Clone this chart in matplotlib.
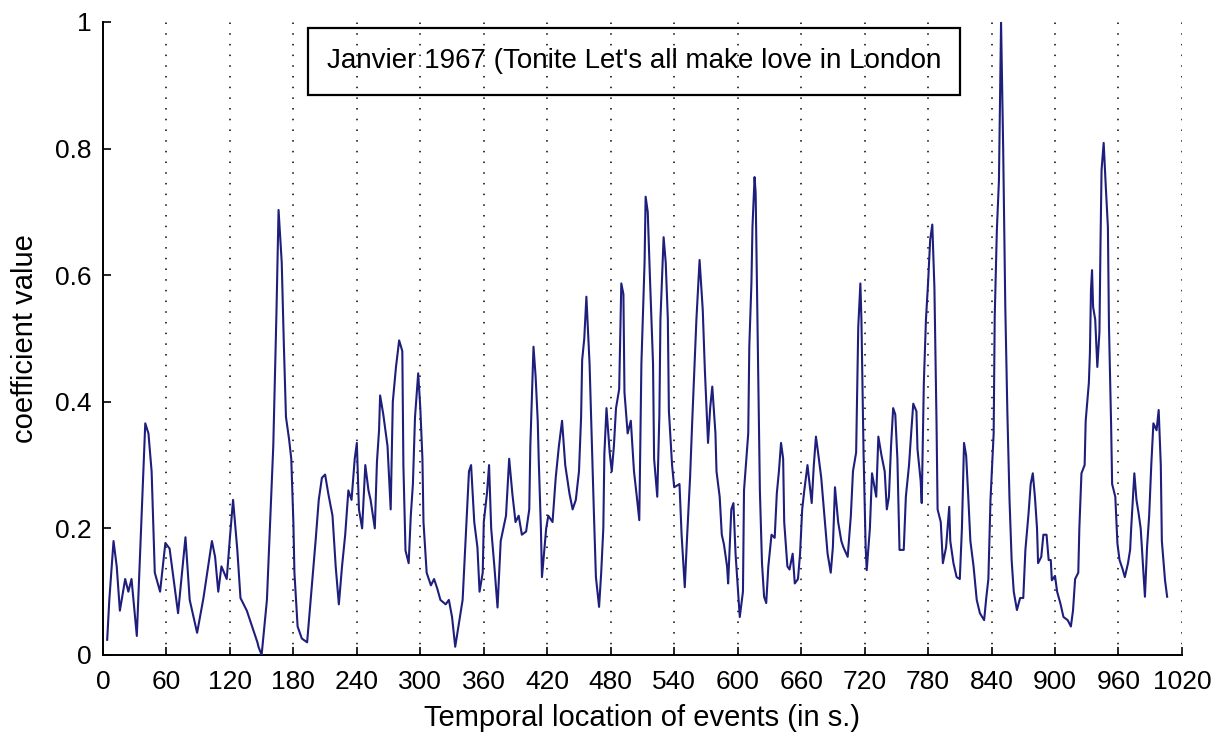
import matplotlib
matplotlib.use("Agg")
import matplotlib.pyplot as plt
from matplotlib.patches import Rectangle

plt.rcParams['font.family'] = ['Liberation Sans', 'DejaVu Sans']

# time (s) and coefficient values
time_s = [4, 6, 10, 13, 16, 21, 24, 27, 32, 35, 40, 43, 46, 49, 54, 59, 63, 71, 78, 82,
          89, 95, 103, 106, 109, 112, 117, 120, 123, 127, 130, 136, 142, 146,
          147, 150, 155, 158, 161, 164, 166, 169, 171, 173, 176, 178, 180, 181, 184, 188,
          193, 196, 201, 204, 207, 210, 213, 217, 220, 223, 226, 229, 232, 235, 238, 240,
          242, 245, 248, 251, 253, 257, 259, 261, 262, 265, 269, 272, 274, 277, 280, 283,
          284, 286, 289, 291, 293, 295, 298, 300, 302, 303, 306, 310, 313, 316, 319, 324,
          327, 330, 333, 336, 340, 343, 346, 348, 351, 354, 356, 359, 360, 363, 365, 367,
          370, 373, 376, 381, 384, 387, 390, 393, 396, 400, 403, 404, 407, 409, 411, 412,
          414, 415, 419, 421, 425, 428, 431, 434, 437, 441, 444, 447, 450, 452, 453, 455,
          457, 460, 462, 464, 466, 469, 471, 473, 474, 476, 479, 481, 483, 485, 488, 490,
          492, 493, 496, 499, 502, 505, 507, 509, 512, 513, 515, 517, 520, 521, 524, 526,
          527, 530, 532, 534, 535, 538, 540, 545, 547, 550, 552, 555, 557, 561, 564, 567,
          569, 572, 574, 576, 579, 580, 583, 585, 587, 590, 591, 594, 596, 598, 600, 602,
          605, 606, 610, 611, 613, 614, 616, 617, 619, 621, 623, 625, 627, 629, 632, 635,
          637, 639, 641, 643, 644, 647, 649, 652, 654, 657, 659, 661, 663, 666, 670, 672,
          674, 676, 679, 682, 685, 688, 690, 692, 695, 698, 700, 704, 707, 709, 712, 714,
          716, 717, 719, 721, 722, 725, 727, 731, 733, 736, 739, 741, 743, 745, 747, 749,
          751, 753, 757, 759, 762, 764, 766, 769, 770, 773, 774, 776, 778, 780, 782, 784,
          786, 788, 789, 792, 794, 797, 800, 801, 804, 807, 810, 812, 814, 816, 818, 820,
          823, 826, 829, 833, 835, 837, 839, 842, 843, 845, 847, 849, 851, 853, 855, 857,
          859, 861, 864, 867, 870, 872, 875, 877, 879, 881, 883, 884, 887, 889, 892, 894,
          896, 897, 900, 902, 905, 908, 912, 915, 917, 919, 922, 923, 925, 928, 929, 932,
          933, 934, 935, 936, 938, 940, 942, 943, 944, 946, 948, 950, 951, 953, 954, 957,
          959, 961, 964, 966, 969, 971, 972, 975, 977, 979, 981, 983, 985, 987, 989, 991,
          993, 996, 998, 1000, 1001, 1004, 1006]

coef = [0.024, 0.087, 0.18, 0.14, 0.07, 0.12, 0.10, 0.12, 0.03, 0.155, 0.366, 0.35, 0.29, 0.13, 0.10, 0.177, 0.168, 0.066, 0.186, 0.087,
        0.035, 0.09, 0.18, 0.155, 0.10, 0.14, 0.12, 0.185, 0.245, 0.166, 0.09, 0.07, 0.04, 0.02,
        0.013, 0.0, 0.087, 0.21, 0.33, 0.54, 0.703, 0.62, 0.49, 0.376, 0.34, 0.31, 0.21, 0.13, 0.045, 0.026,
        0.02, 0.08, 0.18, 0.245, 0.28, 0.285, 0.255, 0.22, 0.14, 0.08, 0.14, 0.19, 0.26, 0.245, 0.31, 0.335,
        0.23, 0.20, 0.30, 0.26, 0.245, 0.20, 0.305, 0.355, 0.41, 0.38, 0.33, 0.23, 0.40, 0.455, 0.497, 0.48,
        0.30, 0.165, 0.145, 0.22, 0.27, 0.376, 0.445, 0.39, 0.31, 0.21, 0.13, 0.11, 0.12, 0.105, 0.087, 0.08,
        0.087, 0.06, 0.013, 0.045, 0.087, 0.19, 0.29, 0.30, 0.21, 0.17, 0.10, 0.13, 0.21, 0.255, 0.30, 0.20,
        0.14, 0.075, 0.18, 0.22, 0.31, 0.255, 0.21, 0.22, 0.19, 0.195, 0.23, 0.33, 0.487, 0.44, 0.37, 0.305,
        0.20, 0.123, 0.20, 0.22, 0.21, 0.28, 0.33, 0.37, 0.30, 0.255, 0.23, 0.245, 0.29, 0.376, 0.466, 0.50,
        0.566, 0.46, 0.345, 0.23, 0.123, 0.076, 0.13, 0.20, 0.318, 0.39, 0.32, 0.29, 0.33, 0.39, 0.42, 0.587,
        0.57, 0.415, 0.35, 0.37, 0.29, 0.245, 0.213, 0.46, 0.62, 0.724, 0.70, 0.60, 0.46, 0.31, 0.25, 0.38,
        0.53, 0.66, 0.62, 0.53, 0.385, 0.30, 0.265, 0.27, 0.19, 0.107, 0.18, 0.28, 0.367, 0.53, 0.624, 0.545,
        0.45, 0.335, 0.39, 0.424, 0.35, 0.29, 0.25, 0.19, 0.175, 0.14, 0.113, 0.23, 0.24, 0.16, 0.11, 0.06,
        0.10, 0.26, 0.35, 0.487, 0.587, 0.676, 0.755, 0.73, 0.49, 0.26, 0.145, 0.092, 0.082, 0.14, 0.19, 0.185,
        0.255, 0.29, 0.335, 0.31, 0.21, 0.14, 0.135, 0.16, 0.113, 0.12, 0.16, 0.23, 0.26, 0.30, 0.24, 0.30,
        0.345, 0.32, 0.28, 0.22, 0.16, 0.13, 0.17, 0.265, 0.21, 0.18, 0.17, 0.155, 0.22, 0.29, 0.32, 0.518,
        0.587, 0.53, 0.32, 0.17, 0.134, 0.20, 0.287, 0.25, 0.345, 0.315, 0.29, 0.23, 0.25, 0.33, 0.39, 0.38,
        0.31, 0.166, 0.166, 0.25, 0.30, 0.35, 0.397, 0.385, 0.325, 0.275, 0.24, 0.43, 0.53, 0.588, 0.656, 0.68,
        0.58, 0.366, 0.23, 0.21, 0.145, 0.17, 0.234, 0.18, 0.145, 0.123, 0.12, 0.20, 0.335, 0.315, 0.25, 0.18,
        0.14, 0.087, 0.066, 0.055, 0.09, 0.12, 0.245, 0.35, 0.534, 0.67, 0.75, 1.0, 0.80, 0.55, 0.38, 0.245,
        0.15, 0.10, 0.071, 0.09, 0.09, 0.166, 0.224, 0.27, 0.287, 0.25, 0.20, 0.145, 0.155, 0.19, 0.19, 0.15,
        0.15, 0.118, 0.125, 0.10, 0.082, 0.06, 0.055, 0.045, 0.07, 0.12, 0.13, 0.20, 0.287, 0.30, 0.37, 0.43,
        0.477, 0.577, 0.608, 0.55, 0.53, 0.455, 0.51, 0.65, 0.766, 0.809, 0.74, 0.676, 0.52, 0.366, 0.27, 0.25,
        0.176, 0.15, 0.135, 0.123, 0.145, 0.166, 0.20, 0.287, 0.245, 0.224, 0.20, 0.145, 0.092, 0.17, 0.22, 0.30,
        0.366, 0.355, 0.387, 0.30, 0.18, 0.118, 0.092]

x_ticks = list(range(0, 1021, 60))
y_ticks = [0, 0.2, 0.4, 0.6, 0.8, 1]
y_tick_labels = ['0', '0.2', '0.4', '0.6', '0.8', '1']
legend_text = "Janvier 1967 (Tonite Let's all make love in London"

fig = plt.figure(figsize=(12.17, 7.38), dpi=100)
ax = fig.add_axes([0.0846, 0.1125, 0.8866, 0.8577])

ax.plot(time_s, coef, color='#1e1e7c', linewidth=1.5, zorder=3)

for xv in x_ticks[1:]:
    ax.axvline(xv, color='black', linestyle=(0, (1, 6)), linewidth=1.1, zorder=1)

ax.set_xlim(0, 1020)
ax.set_ylim(0, 1)
ax.set_xticks(x_ticks)
ax.set_xticklabels([str(v) for v in x_ticks])
ax.set_yticks(y_ticks)
ax.set_yticklabels(y_tick_labels)
ax.tick_params(direction='in', length=6, width=1.2, labelsize=19)
ax.tick_params(axis='x', pad=11)
ax.tick_params(axis='y', pad=8)
for s in ['top', 'right']:
    ax.spines[s].set_visible(False)
for s in ['left', 'bottom']:
    ax.spines[s].set_linewidth(1.4)

ax.set_xlabel('Temporal location of events (in s.)', fontsize=21, labelpad=7)
ax.set_ylabel('coefficient value', fontsize=21, labelpad=12)

box_x0, box_x1 = 0.190, 0.794
box_y0, box_y1 = 0.885, 0.9905
ax.add_patch(Rectangle((box_x0, box_y0), box_x1 - box_x0, box_y1 - box_y0,
                       transform=ax.transAxes, facecolor='none', edgecolor='black',
                       linewidth=1.6, zorder=5, clip_on=False))
ax.text((box_x0 + box_x1) / 2, (box_y0 + box_y1) / 2, legend_text, transform=ax.transAxes,
        ha='center', va='center', fontsize=20, zorder=6)

fig.savefig('out.png', dpi=100)
